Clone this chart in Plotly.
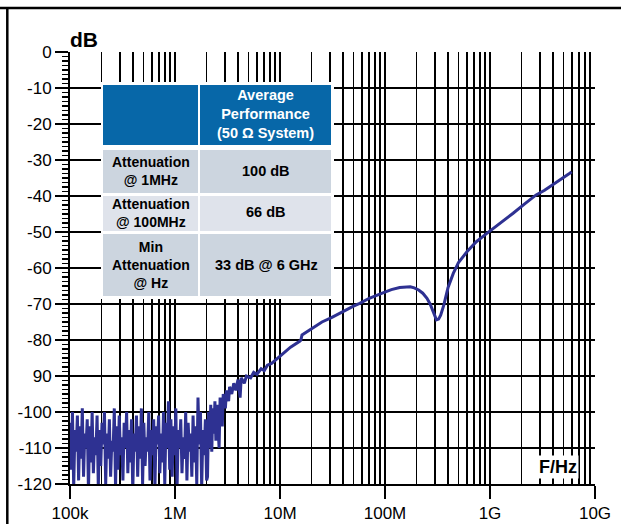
import numpy as np
import plotly.graph_objects as go

# ---------------- data ----------------
# noisy floor, sampled on the analyser sweep grid from 100 kHz to 2 MHz
noise_db = [
    -103, -116, -100, -121, -105, -111, -101, -119, -104, -113, -99, -118,
    -106, -110, -102, -122, -104, -114, -100, -117, -107, -112, -101, -121,
    -105, -115, -103, -109, -100, -120, -106, -113, -102, -118, -108, -111,
    -99, -121, -104, -116, -101, -112, -107, -119, -103, -110, -100, -117,
    -105, -114, -102, -122, -106, -111, -101, -118, -104, -113, -99, -120,
    -103, -115, -107, -111, -100, -119, -105, -112, -102, -121, -104, -109,
    -101, -117, -106, -114, -100, -120, -103, -110, -97, -116, -102, -118,
    -104, -112, -99, -121, -105, -110, -102, -117, -107, -113, -100, -119,
    -103, -111, -106, -118, -101, -114, -104, -120, -96, -109, -100, -121,
    -105, -112, -102, -119,
]
noise_start_hz = 1e5
noise_stop_hz = 2e6

# measured trace above the noise floor (frequency in MHz, attenuation in dB)
trend_mhz = [
    2.04, 2.09, 2.14, 2.19, 2.24, 2.29, 2.34, 2.40, 2.45, 2.51, 2.63, 2.69,
    2.82, 2.88, 3.02, 3.09, 3.24, 3.31, 3.47, 3.63, 3.80, 3.98, 4.17, 4.27,
    4.57, 4.79, 5.25, 5.62, 6.03, 6.61, 7.08, 7.59, 8.32, 9.12, 10.0, 12.6,
    15.5, 15.8, 16.2, 17.8, 20.0, 25.1, 30.9, 39.8, 50.1, 57.5, 70.8, 95.5,
    115, 138, 158, 174, 190, 209, 229, 251, 269, 288, 302, 309, 324, 339,
    363, 398, 447, 501, 603, 741, 933, 1260, 1660, 2140, 2750, 3310, 3980,
    4790, 5750, 6000,
]
trend_db = [
    -118, -100, -110, -98, -111, -99, -106, -97, -108, -98, -110, -96,
    -104, -95, -99, -94, -97, -93, -95, -92, -94, -91, -96, -90.5,
    -92, -90, -90.5, -89, -89.5, -88, -88.5, -87, -86.5, -85.5, -84.6, -82.0,
    -80.3, -80.0, -78.6, -77.8, -76.8, -75.0, -73.8, -72.0, -70.6, -69.8, -68.4, -66.9,
    -66.0, -65.4, -65.2, -65.2, -65.5, -66.1, -67.0, -68.4, -70.0, -72.1, -73.8, -74.4, -74.2, -73.1,
    -70.3, -65.5, -61.5, -58.5, -55.5, -52.7, -50.4, -47.6, -44.8, -42.2, -39.7, -38.4, -36.9,
    -35.3, -33.7, -33.3,
]

x_tick_hz = [1e5, 1e6, 1e7, 1e8, 1e9, 1e10]
x_tick_text = ["100k", "1M", "10M", "100M", "1G", "10G"]
y_tick_db = [0, -10, -20, -30, -40, -50, -60, -70, -80, -90, -100, -110, -120]
y_tick_text = ["0", "-10", "-20", "-30", "-40", "-50", "-60", "-70", "-80", "90",
               "-100", "-110", "-120"]

table_header = "Average<br>Performance<br>(50 \u03a9 System)"
table_rows_left = ["Attenuation<br>@ 1MHz", "Attenuation<br>@ 100MHz",
                   "Min<br>Attenuation<br>@ Hz"]
table_rows_right = ["100 dB", "66 dB", "33 dB @ 6 GHz"]

# ---------------- build ----------------
noise_hz = np.logspace(np.log10(noise_start_hz), np.log10(noise_stop_hz), len(noise_db))
freq_hz = list(noise_hz) + [f * 1e6 for f in trend_mhz]
att_db = list(noise_db) + list(trend_db)

W, H = 621, 524
L, T = 70, 52
PW, PH = 525, 432
R, B = W - L - PW, H - T - PH


def px(x):
    return (x - L) / PW


def py(y):
    return (H - B - y) / PH


FONT = "Liberation Sans, Arial, Helvetica, sans-serif"
LINE_BLUE = "#2E3192"
HEAD_BLUE = "#0767A8"
CELL_A = "#CCD5DF"
CELL_B = "#DFE3EB"

minor_x = [m * d for d in [1e5, 1e6, 1e7, 1e8, 1e9] for m in range(2, 10)]

fig = go.Figure()
fig.add_trace(go.Scatter(x=freq_hz, y=att_db, mode="lines",
                         line=dict(color=LINE_BLUE, width=3), showlegend=False,
                         hoverinfo="skip"))

fig.update_layout(
    width=W, height=H,
    margin=dict(l=L, r=R, t=T, b=B, pad=0),
    paper_bgcolor="white", plot_bgcolor="white",
    font=dict(family=FONT, color="black", size=17),
    showlegend=False,
    xaxis=dict(type="log", range=[5, 10], tickmode="array", tickvals=x_tick_hz,
               ticktext=x_tick_text, ticks="outside", ticklen=13, tickwidth=2,
               tickcolor="black", showgrid=True, gridcolor="black", gridwidth=1.6,
               showline=True, linecolor="black", linewidth=2, zeroline=False,
               automargin=False,
               tickfont=dict(size=17, family=FONT, color="black"),
               minor=dict(tickmode="array", tickvals=minor_x, showgrid=True,
                          gridcolor="black", gridwidth=1.6, ticks="")),
    yaxis=dict(range=[-120, 0], tickmode="array", tickvals=y_tick_db,
               ticktext=y_tick_text, ticks="outside", ticklen=13, tickwidth=2,
               tickcolor="black", showgrid=True, gridcolor="black", gridwidth=1.6,
               showline=True, linecolor="black", linewidth=2, zeroline=False,
               automargin=False,
               tickfont=dict(size=17, family=FONT, color="black"),
               minor=dict(tick0=0, dtick=1.25, ticks="outside", ticklen=6,
                          tickwidth=1.5, tickcolor="black", showgrid=False)),
)


def rect(x0, y0, x1, y1, color):
    return dict(type="rect", xref="paper", yref="paper", x0=px(x0), x1=px(x1),
                y0=py(y1), y1=py(y0), fillcolor=color, line=dict(width=0),
                layer="above")


shapes = []
# keep the strip right of the 10G label clean
shapes.append(rect(611.5, 10, W + 4, H + 4, "white"))
# outer frame lines (top and left)
shapes.append(dict(type="line", xref="paper", yref="paper", x0=px(-2), x1=px(W + 2),
                   y0=py(8), y1=py(8), line=dict(color="black", width=2.5),
                   layer="above"))
shapes.append(dict(type="line", xref="paper", yref="paper", x0=px(7.3), x1=px(7.3),
                   y0=py(8), y1=py(H + 2), line=dict(color="black", width=2.5),
                   layer="above"))

shapes.append(rect(101, 82, 334, 299, "white"))
shapes.append(rect(103, 85, 198, 145, HEAD_BLUE))
shapes.append(rect(200, 85, 331, 145, HEAD_BLUE))
row_y = [(150, 193), (196, 231), (234, 296)]
row_col = [CELL_A, CELL_B, CELL_A]
for (y0, y1), c in zip(row_y, row_col):
    shapes.append(rect(103, y0, 198, y1, c))
    shapes.append(rect(200, y0, 331, y1, c))
fig.update_layout(shapes=shapes)


def label(text, x, y, size=14.5, color="black", **kw):
    fig.add_annotation(text=text, xref="paper", yref="paper", x=px(x), y=py(y),
                       xanchor="center", yanchor="middle", showarrow=False,
                       font=dict(family=FONT, size=size, color=color, weight="bold"),
                       **kw)


label(table_header, 265.5, 114, color="white")
left_y = [171, 213, 265]
right_y = [171, 212, 264.5]
for ltxt, ly, rtxt, ry in zip(table_rows_left, left_y, table_rows_right, right_y):
    label(ltxt, 150.5, ly, size=14)
    label(rtxt, 266, ry)

label("dB", 84, 39, size=21)
label("F/Hz", 558, 467, size=18, bgcolor="white", borderpad=1)

# place the figure at the page origin without scrollbars
page_fix = ("document.documentElement.style.overflow='hidden';"
            "document.body.style.margin='0';"
            "document.body.style.overflow='hidden';")
fig.write_html("out.html", post_script=page_fix,
               config=dict(displayModeBar=False, staticPlot=True))
